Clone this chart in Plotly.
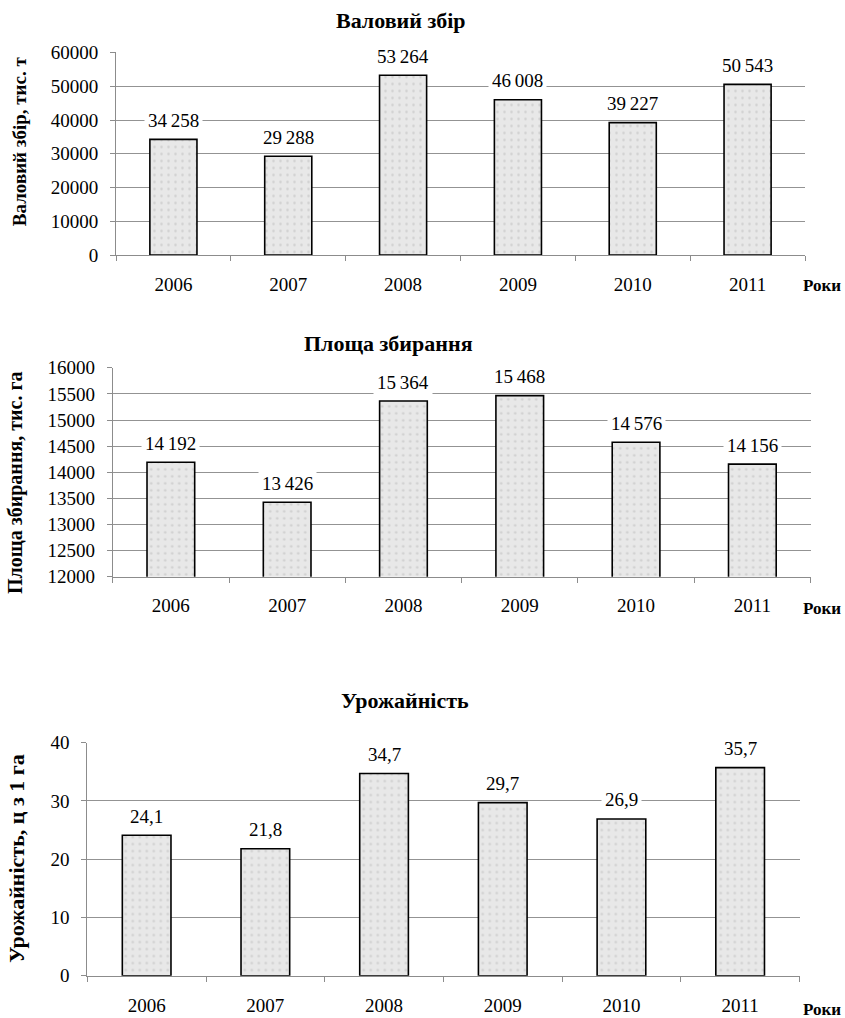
import plotly.graph_objects as go

years = ["2006", "2007", "2008", "2009", "2010", "2011"]
gross_harvest = [34258, 29288, 53264, 46008, 39227, 50543]
harvest_area = [14192, 13426, 15364, 15468, 14576, 14156]
crop_yield = [24.1, 21.8, 34.7, 29.7, 26.9, 35.7]

titles = ["Валовий збір", "Площа збирання", "Урожайність"]
y_titles = ["Валовий збір, тис. т", "Площа збирання, тис. га", "Урожайність, ц з 1 га"]
x_label = "Роки"

W, H = 845, 1018
FONT = "Liberation Serif"


def px(x):
    return x / W


def py(y):
    # vertical position in paper fraction, with a small calibration
    y = (y - 9.8) / 0.9798
    return 1 - y / H


def fmt_int(v):
    return f"{v:,}".replace(",", "\u2009")


def fmt_dec(v):
    return f"{v:.1f}".replace(".", ",")


panels = [
    dict(values=gross_harvest, labels=[fmt_int(v) for v in gross_harvest],
         xdom=[px(116), px(805)], ydom=[py(255), py(52.3)], yrange=[0, 60000], dtick=10000,
         title_xy=(401, 20), ytitle_xy=(19, 141), ytitle_size=19, roky_y=285),
    dict(values=harvest_area, labels=[fmt_int(v) for v in harvest_area],
         xdom=[px(112.7), px(810.5)], ydom=[py(576.7), py(367.8)], yrange=[12000, 16000], dtick=500,
         title_xy=(388, 343), ytitle_xy=(16, 483), ytitle_size=20, roky_y=609),
    dict(values=crop_yield, labels=[fmt_dec(v) for v in crop_yield],
         xdom=[px(87.3), px(799.5)], ydom=[py(976), py(742.7)], yrange=[0, 40], dtick=10,
         title_xy=(405, 701), ytitle_xy=(17, 859), ytitle_size=22, roky_y=1010),
]

fig = go.Figure()
annotations = []
layout_axes = {}

for i, p in enumerate(panels):
    n = "" if i == 0 else str(i + 1)
    xa, ya = "x" + n, "y" + n
    fig.add_trace(go.Bar(
        x=years, y=p["values"], xaxis=xa, yaxis=ya,
        marker=dict(color="#e4e4e4", line=dict(color="black", width=1.6),
                    pattern=dict(shape=".", fgcolor="#b5b5b5", bgcolor="#e8e8e8",
                                 size=7, solidity=0.1)),
        showlegend=False, hoverinfo="skip",
    ))
    layout_axes["xaxis" + n] = dict(
        domain=p["xdom"], anchor=ya, type="category", range=[-0.5, 5.5],
        showline=True, linecolor="#8c8c8c", linewidth=1,
        ticks="outside", ticklen=5, tickcolor="#8c8c8c", tickson="boundaries",
        showgrid=False, tickfont=dict(family=FONT, size=19, color="black"),
        ticklabelstandoff=12,
    )
    layout_axes["yaxis" + n] = dict(
        domain=p["ydom"], anchor=xa, range=p["yrange"], dtick=p["dtick"],
        tickformat="d",
        showline=True, linecolor="#8c8c8c", linewidth=1,
        ticks="outside", ticklen=5, tickcolor="#8c8c8c",
        showgrid=True, gridcolor="#939393", gridwidth=1, zeroline=False,
        tickfont=dict(family=FONT, size=19, color="black"), ticklabelstandoff=8,
    )
    for k, (v, lab) in enumerate(zip(p["values"], p["labels"])):
        annotations.append(dict(
            x=k, y=v, xref=xa, yref=ya, text=lab, showarrow=False,
            xanchor="center", yanchor="middle", yshift=19, bgcolor="white", borderpad=3,
            font=dict(family=FONT, size=19, color="black"),
        ))
    tx, ty = p["title_xy"]
    annotations.append(dict(
        x=px(tx), y=py(ty), xref="paper", yref="paper", text="<b>" + titles[i] + "</b>",
        showarrow=False, xanchor="center", yanchor="middle",
        font=dict(family=FONT, size=22, color="black"),
    ))
    ytx, yty = p["ytitle_xy"]
    annotations.append(dict(
        x=px(ytx), y=py(yty), xref="paper", yref="paper", text="<b>" + y_titles[i] + "</b>",
        showarrow=False, xanchor="center", yanchor="middle", textangle=-90,
        font=dict(family=FONT, size=p["ytitle_size"], color="black"),
    ))
    annotations.append(dict(
        x=px(843), y=py(p["roky_y"]), xref="paper", yref="paper", text="<b>" + x_label + "</b>",
        showarrow=False, xanchor="right", yanchor="middle",
        font=dict(family=FONT, size=17, color="black"),
    ))

fig.update_layout(
    width=W, height=H, margin=dict(l=0, r=0, t=0, b=0),
    paper_bgcolor="white", plot_bgcolor="white",
    bargap=0.59, annotations=annotations, **layout_axes,
)

fig.write_html("out.html", config={"displayModeBar": False},
               post_script="document.body.style.margin='0';")
